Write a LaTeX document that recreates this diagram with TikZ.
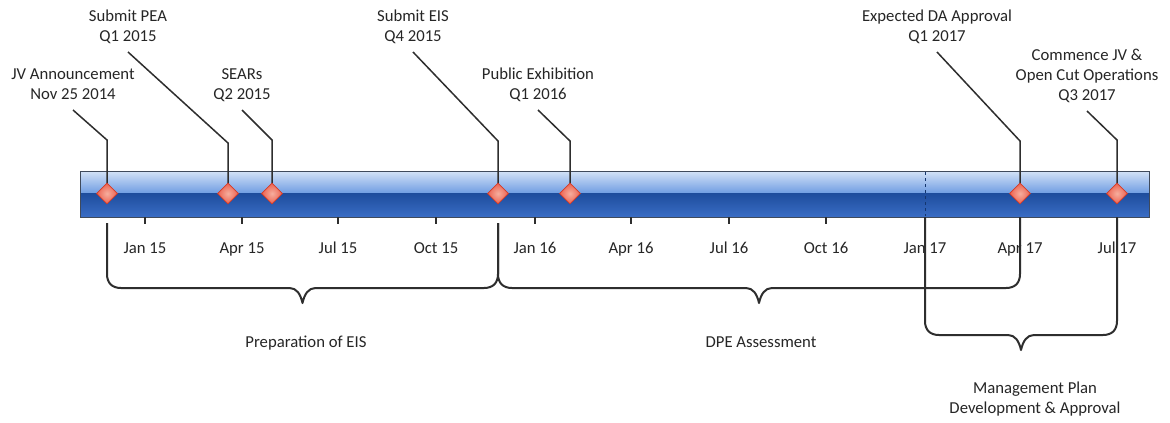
\documentclass[tikz,border=0pt]{standalone}
\usepackage{fontspec}
\setmainfont{Carlito}
\usetikzlibrary{shapes.geometric,calc}
\definecolor{txt}{HTML}{262626}
\definecolor{linec}{HTML}{2E2E2E}
\definecolor{barlight}{HTML}{D3E2F7}
\definecolor{barmid}{HTML}{6E9CE2}
\definecolor{bardark}{HTML}{1E4D9D}
\definecolor{barlow}{HTML}{3A6DC5}
\definecolor{barline}{HTML}{3F4A5C}
\definecolor{dfill}{HTML}{EC6250}
\definecolor{dcenter}{HTML}{F6AE9E}
\definecolor{dborder}{HTML}{D23A28}
\newcommand\stacklines[1]{\vbox{\baselineskip=20pt\lineskiplimit=-10pt\halign{\hfil##\hfil\cr#1\crcr}}}
\newcommand\tlbrace[5]{%
  \pgfmathsetmacro\xm{(#1+#2)/2}%
  \draw[bracestyle] (#1,#3) -- (#1,#5-14) .. controls (#1,#5-5) and (#1+5,#5) .. (#1+14,#5)
    -- (\xm-13,#5) .. controls (\xm-6,#5) and (\xm-2,#5+6) .. (\xm,#5+15)
    .. controls (\xm+2,#5+6) and (\xm+6,#5) .. (\xm+13,#5)
    -- (#2-14,#5) .. controls (#2-5,#5) and (#2,#5-5) .. (#2,#5-14) -- (#2,#4);}
\begin{document}
\begin{tikzpicture}[x=1pt,y=-1pt,
  lbl/.style={font=\fontsize{16.7}{20}\selectfont, text=txt, inner sep=0pt, anchor=base},
  leader/.style={draw=linec, line width=1.5pt},
  milestone/.style={shape=diamond, minimum width=21pt, minimum height=21pt, inner sep=0pt,
    inner color=dcenter, outer color=dfill, draw=dborder, line width=0.8pt},
  tickmark/.style={draw=linec, line width=1.4pt},
  bracestyle/.style={draw=linec, line width=2pt, line join=round}]
\useasboundingbox[fill=white] (0,0) rectangle (1170,423);

% bar
\shade[top color=barlight, bottom color=barmid] (80,171) rectangle (1149,193.5);
\shade[top color=bardark, bottom color=barlow] (80,193.5) rectangle (1149,217);
\draw[barline, line width=1pt] (80,171) rectangle (1149,217);
\draw[dashed, draw=bardark!70!black, line width=1pt] (925,172) -- (925,216);

% ticks and labels
\foreach \x/\t [count=\i] in {145/Jan 15,242/Apr 15,338/Jul 15,436/Oct 15,535/Jan 16,631/Apr 16,729/Jul 16,826/Oct 16,925/Jan 17,1020/Apr 17,1117/Jul 17}{
  \coordinate (tk\i) at (\x,217);
  \draw[tickmark] (tk\i) -- ++(0,7);
  \node[lbl] (tl\i) at (\x,253) {\t};
}

% milestone labels
\node[lbl] (l1) at (73,99) {\stacklines{JV Announcement\cr Nov 25 2014}};
\node[lbl] (l2) at (128,41) {\stacklines{Submit PEA\cr Q1 2015}};
\node[lbl] (l3) at (242,99) {\stacklines{SEARs\cr Q2 2015}};
\node[lbl] (l4) at (413,41) {\stacklines{Submit EIS\cr Q4 2015}};
\node[lbl] (l5) at (538,99) {\stacklines{Public Exhibition\cr Q1 2016}};
\node[lbl] (l6) at (937,41) {\stacklines{Expected DA Approval\cr Q1 2017}};
\node[lbl] (l7) at (1087,100) {\stacklines{Commence JV \&\cr Open Cut Operations\cr Q3 2017}};

% bend points
\coordinate (b1) at (107,140);
\coordinate (b2) at (228,143);
\coordinate (b3) at (272,140);
\coordinate (b4) at (498,141);
\coordinate (b5) at (570,141);
\coordinate (b6) at (1020,141);
\coordinate (b7) at (1117,140);

% diamonds (positions)
\coordinate (p1) at (107,193.5);
\coordinate (p2) at (228,193.5);
\coordinate (p3) at (272,193.5);
\coordinate (p4) at (498,193.5);
\coordinate (p5) at (570,193.5);
\coordinate (p6) at (1020,193.5);
\coordinate (p7) at (1117,193.5);

\foreach \i in {1,...,7}{
  \draw[leader] (p\i) -- (b\i) -- ([yshift=-11pt]l\i.base);
}
\foreach \i in {1,...,7}{
  \node[milestone] (d\i) at (p\i) {};
}

% braces
\tlbrace{107}{498}{223}{223}{288}
\tlbrace{498}{1020}{223}{218}{288}
\tlbrace{925}{1117}{218}{218}{335}

\node[lbl] (prep) at (306,347) {Preparation of EIS};
\node[lbl] (dpe) at (761,347) {DPE Assessment};
\node[lbl] (mgmt) at (1035,413) {\stacklines{Management Plan\cr Development \& Approval}};
\end{tikzpicture}
\end{document}
